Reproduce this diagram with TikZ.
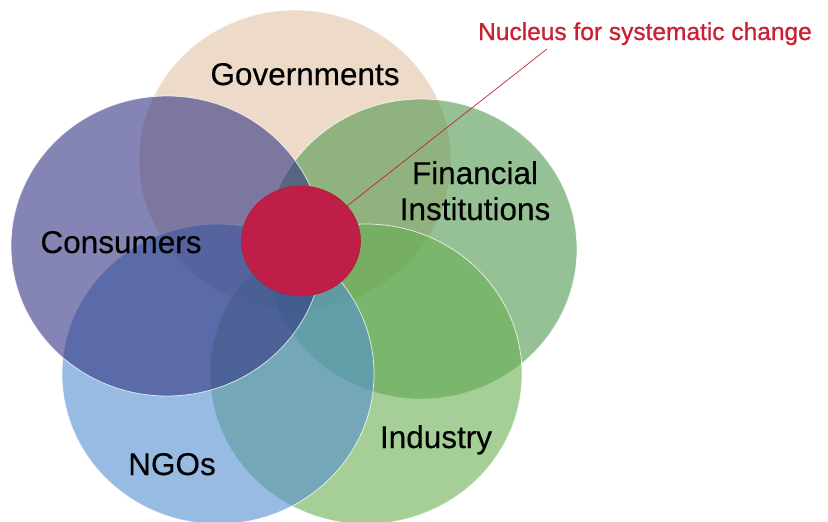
\documentclass[tikz,border=0pt]{standalone}
\usepackage{fontspec}
\setmainfont{Liberation Sans}
\newfontfamily\labelfont[FakeBold=0.35]{Liberation Sans}
\newfontfamily\calloutfont[FakeBold=0.9]{Liberation Sans}
\usetikzlibrary{shapes.geometric,calc}

\definecolor{govfill}{RGB}{227,193,163}
\definecolor{finfill}{RGB}{80,152,77}
\definecolor{indfill}{RGB}{105,175,80}
\definecolor{ngofill}{RGB}{83,142,208}
\definecolor{confill}{RGB}{50,52,130}
\definecolor{nucleusfill}{RGB}{190,30,72}
\definecolor{nucleusred}{RGB}{202,32,52}

\tikzset{
  venn/.style={ellipse, inner sep=0pt, minimum width=312pt, minimum height=300pt,
    fill=#1, fill opacity=0.6, draw=white, draw opacity=0.75, line width=0.8pt},
  nucleus/.style={ellipse, inner sep=0pt, minimum width=119pt, minimum height=110pt,
    fill=nucleusfill, draw=nucleusred!90!black, line width=0.6pt},
  grouplabel/.style={anchor=base, inner sep=0pt, text=black,
    font=\labelfont\fontsize{31.5}{36}\selectfont},
  calloutlabel/.style={anchor=base, inner sep=0pt, text=nucleusred,
    font=\calloutfont\fontsize{24.5}{28}\selectfont},
  callout/.style={draw=nucleusred, line width=0.7pt}
}

\begin{document}
\begin{tikzpicture}[x=1pt, y=-1pt]
  \useasboundingbox (0,0) rectangle (828,522);

  % overlapping stakeholder sets, back to front
  \node[venn=govfill] (gov) at (295,160) {};
  \node[venn=finfill] (fin) at (421,249) {};
  \node[venn=indfill] (ind) at (366,374) {};
  \node[venn=ngofill] (ngo) at (218,374) {};
  \node[venn=confill] (con) at (167,246) {};

  % shared core
  \node[nucleus] (core) at (301,241) {};

  % set names
  \node[grouplabel] (govlabel) at (305,85) {Governments};
  \node[grouplabel] (conlabel) at (121,253) {Consumers};
  \node[grouplabel] (finlabel) at (475,184) {Financial};
  \node[grouplabel] (finlabelb) at (475,220) {Institutions};
  \node[grouplabel] (indlabel) at (436,448) {Industry};
  \node[grouplabel] (ngolabel) at (172,475) {NGOs};

  % callout for the core
  \node[calloutlabel] (corelabel) at (645,40) {Nucleus for systematic change};
  \coordinate (calloutstart) at (547,49);
  \coordinate (calloutend) at ($(core.center)+(32,-24)$);
  \draw[callout] (calloutstart) -- (calloutend);
\end{tikzpicture}
\end{document}
